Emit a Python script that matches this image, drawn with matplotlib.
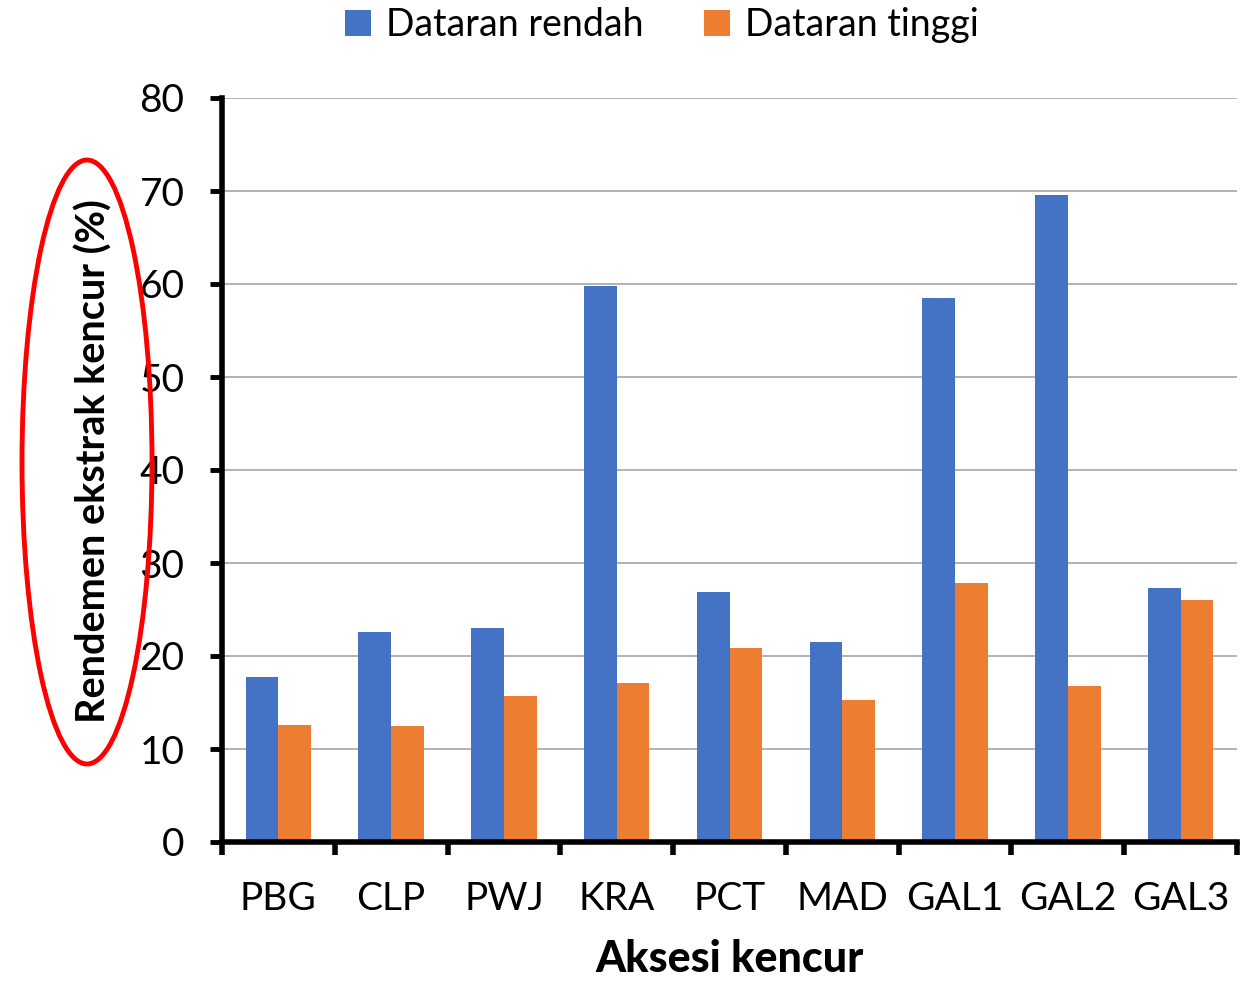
import matplotlib.pyplot as plt
import numpy as np
from matplotlib.patches import Ellipse

plt.rcParams['font.family'] = ['Lato', 'DejaVu Sans']

# data
aksesi = ['PBG', 'CLP', 'PWJ', 'KRA', 'PCT', 'MAD', 'GAL1', 'GAL2', 'GAL3']
dataran_rendah = [17.7, 22.6, 23.0, 59.8, 26.9, 21.5, 58.5, 69.6, 27.3]
dataran_tinggi = [12.6, 12.5, 15.7, 17.1, 20.9, 15.3, 27.8, 16.8, 26.0]
yticks = [0, 10, 20, 30, 40, 50, 60, 70, 80]

W, H = 1246, 984
fs = 28
fig = plt.figure(figsize=(W / 100, H / 100), dpi=100)
ax = fig.add_axes([222 / W, 1 - 842 / H, (1237 - 222) / W, (842 - 98) / H])

x = np.arange(len(aksesi))
bw = 0.29
ax.bar(x - bw / 2, dataran_rendah, bw, color='#4472C4', label='Dataran rendah', zorder=3)
ax.bar(x + bw / 2, dataran_tinggi, bw, color='#ED7D31', label='Dataran tinggi', zorder=3)

ax.set_xlim(-0.5, len(aksesi) - 0.5)
ax.set_ylim(0, 80)
ax.set_yticks(yticks)
ax.set_yticklabels([str(v) for v in yticks], fontsize=fs)
ax.set_xticks(x)
ax.set_xticklabels(aksesi, fontsize=fs)
ax.set_xticks(np.arange(len(aksesi) + 1) - 0.5, minor=True)

ax.tick_params(axis='x', which='major', length=0, pad=28)
ax.tick_params(axis='x', which='minor', length=9, width=4, direction='out')
ax.tick_params(axis='y', which='major', length=9, width=3.5, pad=18)

ax.grid(axis='y', color='#a6a6a6', linewidth=1.2, zorder=0)
for s in ['top', 'right']:
    ax.spines[s].set_visible(False)
ax.spines['left'].set_linewidth(4)
ax.spines['bottom'].set_linewidth(4)
ax.spines['left'].set_zorder(4)
ax.spines['bottom'].set_zorder(4)

ax.set_xlabel('Aksesi kencur', fontsize=31, fontweight='black', labelpad=16)
ax.set_ylabel('Rendemen ekstrak kencur (%)', fontsize=28.5, fontweight='bold')
ax.yaxis.set_label_coords(-0.108, 0.512)

fig.legend(loc='center', bbox_to_anchor=(662 / W, 1 - 25 / H), ncol=2, frameon=False,
           fontsize=27, handlelength=0.7, handleheight=0.7, handletextpad=0.4,
           columnspacing=1.6)

# red ellipse around the y-axis label
fig.add_artist(Ellipse((87 / W, 1 - 462 / H), 130 / W, 604 / H,
                       transform=fig.transFigure, fill=False,
                       edgecolor='#ff0000', linewidth=3.5))

fig.savefig('out.png', dpi=100)
